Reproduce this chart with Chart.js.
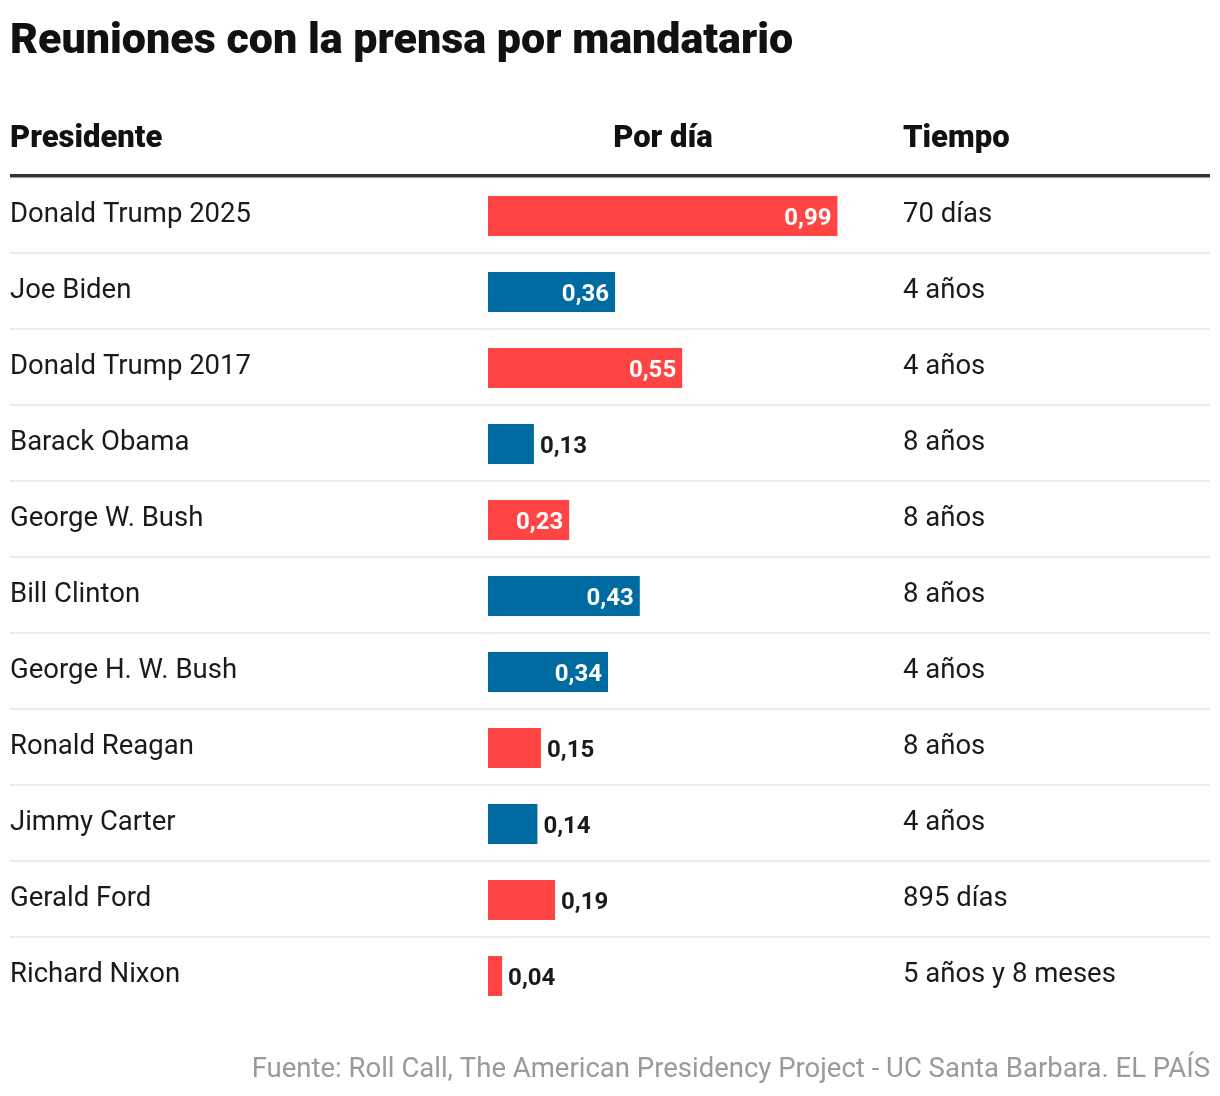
<!DOCTYPE html>
<html>
<head>
<meta charset="utf-8">
<script src="https://cdn.jsdelivr.net/npm/chart.js@4"></script>
<style>
html,body{margin:0;padding:0;background:#fff;}
#wrap{position:relative;width:1220px;height:1096px;}
</style>
</head>
<body>
<div id="wrap"><canvas id="c" width="1220" height="1096"></canvas></div>
<script>
const presidents = ["Donald Trump 2025","Joe Biden","Donald Trump 2017","Barack Obama","George W. Bush","Bill Clinton","George H. W. Bush","Ronald Reagan","Jimmy Carter","Gerald Ford","Richard Nixon"];
const perDay = [0.99,0.36,0.55,0.13,0.23,0.43,0.34,0.15,0.14,0.19,0.04];
const party = ["R","D","R","D","R","D","D","R","D","R","R"];
const tiempo = ["70 días","4 años","4 años","8 años","8 años","8 años","4 años","8 años","4 años","895 días","5 años y 8 meses"];
const title = "Reuniones con la prensa por mandatario";
const headers = ["Presidente","Por día","Tiempo"];
const source = "Fuente: Roll Call, The American Presidency Project - UC Santa Barbara. EL PAÍS";

const RED = "#ff4444", BLUE = "#006ba1";
const FONT = "Roboto, 'Liberation Sans', sans-serif";
const fmt = v => v.toFixed(2).replace('.', ',');

const tablePlugin = {
  id: 'table',
  beforeDatasetsDraw(chart) {
    const ctx = chart.ctx, y = chart.scales.y;
    ctx.save();
    ctx.textBaseline = "alphabetic";
    // title
    ctx.fillStyle = "#111";
    ctx.textAlign = "left";
    ctx.font = "900 43px " + FONT;
    ctx.fillText(title, 10, 53);
    // headers
    ctx.font = "900 31px " + FONT;
    ctx.fillText(headers[0], 10, 147);
    ctx.textAlign = "center";
    ctx.fillText(headers[1], 663, 147);
    ctx.textAlign = "left";
    ctx.fillText(headers[2], 903, 147);
    // thick rule
    ctx.fillStyle = "#333";
    ctx.fillRect(10, 174, 1200, 3.5);
    // row separators
    ctx.fillStyle = "#ebebeb";
    for (let i = 0; i < presidents.length - 1; i++) {
      const yy = y.getPixelForValue(i) + 37;
      ctx.fillRect(10, yy - 1, 1200, 2);
    }
    // row texts
    ctx.fillStyle = "#1a1a1a";
    ctx.font = "400 27.5px " + FONT;
    presidents.forEach((p, i) => {
      const by = y.getPixelForValue(i) + 6;
      ctx.fillText(p, 10, by);
      ctx.fillText(tiempo[i], 903, by);
    });
    // source
    ctx.fillStyle = "#9a9a9a";
    ctx.font = "400 27.5px " + FONT;
    ctx.textAlign = "right";
    ctx.fillText(source, 1210, 1077);
    ctx.restore();
  },
  afterDatasetsDraw(chart) {
    const ctx = chart.ctx;
    const meta = chart.getDatasetMeta(0);
    ctx.save();
    ctx.font = "700 24px " + FONT;
    ctx.textBaseline = "alphabetic";
    meta.data.forEach((bar, i) => {
      const v = perDay[i];
      const by = bar.y + 9;
      if (v >= 0.2) {
        ctx.fillStyle = "#fff";
        ctx.textAlign = "right";
        ctx.fillText(fmt(v), bar.x - 6, by);
      } else {
        ctx.fillStyle = "#1a1a1a";
        ctx.textAlign = "left";
        ctx.fillText(fmt(v), bar.x + 6, by);
      }
    });
    ctx.restore();
  }
};

new Chart(document.getElementById('c'), {
  type: 'bar',
  data: {
    labels: presidents,
    datasets: [{
      data: perDay,
      backgroundColor: party.map(p => p === "R" ? RED : BLUE),
      borderWidth: 0,
      categoryPercentage: 1,
      barPercentage: 40 / 76
    }]
  },
  options: {
    indexAxis: 'y',
    responsive: false,
    animation: false,
    devicePixelRatio: 1,
    layout: { padding: { left: 488, right: 10, top: 178, bottom: 82 } },
    plugins: { legend: { display: false }, tooltip: { enabled: false } },
    scales: {
      x: { min: 0, max: 722 / 353, display: false, grid: { display: false } },
      y: { display: false, grid: { display: false } }
    }
  },
  plugins: [tablePlugin]
});
</script>
</body>
</html>
